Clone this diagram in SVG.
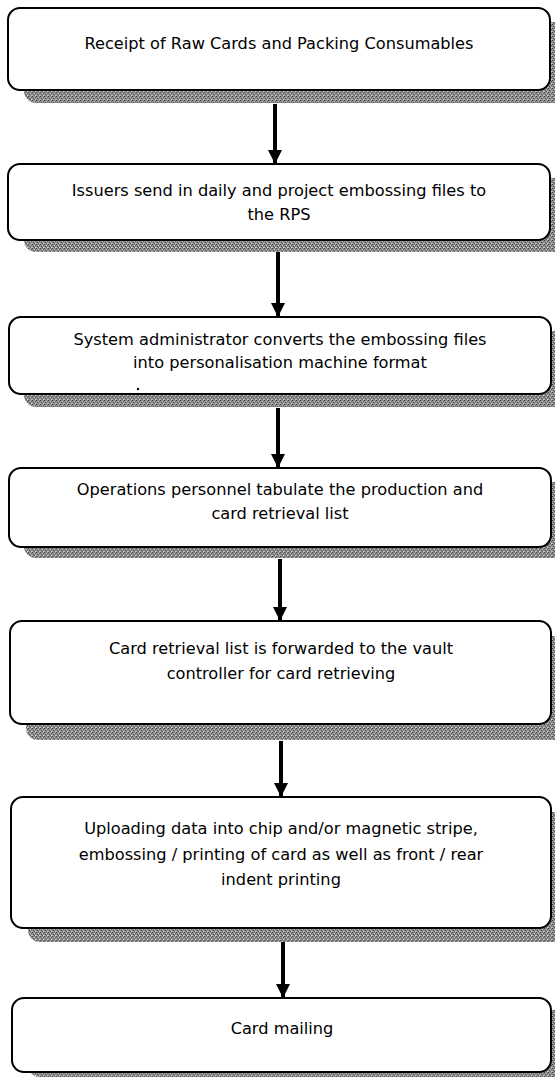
<svg xmlns="http://www.w3.org/2000/svg" width="555" height="1077" viewBox="0 0 555 1077">
  <style>
    .box { fill: #ffffff; stroke: #000000; stroke-width: 2; }
    .shadow { fill: url(#grain); }
    .lbl { font-family: "DejaVu Sans", Verdana, sans-serif; font-size: 16.2px; fill: #000000; text-anchor: middle; }
    .flow { stroke: #000000; stroke-width: 4; fill: none; marker-end: url(#head); }
  </style>
  <defs>
    <!-- dithered grey used for the drop shadows -->
    <pattern id="grain" width="4" height="4" patternUnits="userSpaceOnUse">
      <rect width="4" height="4" fill="#8e8e8e"/>
      <rect x="0" y="0" width="1" height="1" fill="#404040"/>
      <rect x="2" y="1" width="1" height="1" fill="#c4c4c4"/>
      <rect x="1" y="2" width="1" height="1" fill="#555555"/>
      <rect x="3" y="3" width="1" height="1" fill="#d2d2d2"/>
      <rect x="3" y="1" width="1" height="1" fill="#606060"/>
      <rect x="0" y="3" width="1" height="1" fill="#b8b8b8"/>
      <rect x="2" y="3" width="1" height="1" fill="#5c5c5c"/>
    </pattern>
    <marker id="head" viewBox="0 0 10 10" refX="10" refY="5" markerWidth="3.6" markerHeight="3.6" orient="auto" markerUnits="strokeWidth">
      <path d="M0,0 L10,5 L0,10 z" fill="#000000"/>
    </marker>
  </defs>

  <!-- connectors -->
  <g id="connectors">
    <line class="flow" x1="275" y1="104" x2="275" y2="164"/>
    <line class="flow" x1="278" y1="252" x2="278" y2="317"/>
    <line class="flow" x1="278" y1="408" x2="278" y2="468"/>
    <line class="flow" x1="280" y1="559" x2="280" y2="621"/>
    <line class="flow" x1="281" y1="741" x2="281" y2="797"/>
    <line class="flow" x1="283" y1="942" x2="283" y2="998"/>
  </g>

  <g id="step1">
    <rect class="shadow" x="24" y="22" width="542" height="81" rx="12"/>
    <rect class="box" x="8" y="8" width="542" height="82" rx="12"/>
    <text class="lbl" x="279" y="49">Receipt of Raw Cards and Packing Consumables</text>
  </g>

  <g id="step2">
    <rect class="shadow" x="24" y="178" width="542" height="74" rx="12"/>
    <rect class="box" x="8" y="164" width="542" height="76" rx="12"/>
    <text class="lbl" x="279" y="196">Issuers send in daily and project embossing files to</text>
    <text class="lbl" x="279" y="220">the RPS</text>
  </g>

  <g id="step3">
    <rect class="shadow" x="24" y="331" width="542" height="76" rx="12"/>
    <rect class="box" x="9" y="317" width="542" height="77" rx="12"/>
    <text class="lbl" x="280" y="345">System administrator converts the embossing files</text>
    <text class="lbl" x="280" y="368">into personalisation machine format</text>
    <circle cx="138" cy="389" r="1.2" fill="#000000"/>
  </g>

  <g id="step4">
    <rect class="shadow" x="24" y="482" width="542" height="76" rx="12"/>
    <rect class="box" x="9" y="468" width="542" height="79" rx="12"/>
    <text class="lbl" x="280" y="495">Operations personnel tabulate the production and</text>
    <text class="lbl" x="280" y="519">card retrieval list</text>
  </g>

  <g id="step5">
    <rect class="shadow" x="26" y="636" width="542" height="104" rx="12"/>
    <rect class="box" x="10" y="621" width="541" height="103" rx="12"/>
    <text class="lbl" x="281" y="654">Card retrieval list is forwarded to the vault</text>
    <text class="lbl" x="281" y="679">controller for card retrieving</text>
  </g>

  <g id="step6">
    <rect class="shadow" x="28" y="812" width="540" height="130" rx="12"/>
    <rect class="box" x="11" y="797" width="540" height="131" rx="12"/>
    <text class="lbl" x="281" y="834">Uploading data into chip and/or magnetic stripe,</text>
    <text class="lbl" x="281" y="860">embossing / printing of card as well as front / rear</text>
    <text class="lbl" x="281" y="885">indent printing</text>
  </g>

  <g id="step7">
    <rect class="shadow" x="28" y="1010" width="540" height="67" rx="12"/>
    <rect class="box" x="12" y="998" width="539" height="74" rx="12"/>
    <text class="lbl" x="282" y="1034">Card mailing</text>
  </g>
</svg>
